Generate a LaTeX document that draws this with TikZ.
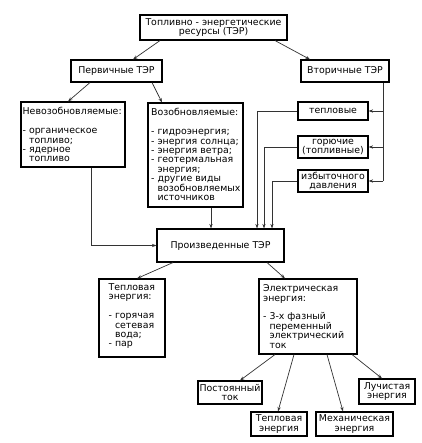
\documentclass[tikz,border=0pt]{standalone}
\usepackage{fontspec}
\setmainfont{DejaVu Sans}
\usetikzlibrary{arrows.meta}
\begin{document}
\begin{tikzpicture}[x=1pt,y=-1pt,
  box/.style={draw=black,line width=1.1pt,inner sep=0pt,fill=white},
  txt/.style={inner sep=0pt,font=\fontsize{9.4}{9.4}\selectfont,align=left},
  ctxt/.style={inner sep=0pt,font=\fontsize{9.4}{9.4}\selectfont,align=center},
  arr/.style={draw=black!80,line width=0.7pt,-{Stealth[length=4.5pt,width=3.2pt]}}]
\useasboundingbox[fill=white] (0,0) rectangle (421,443);
% boxes
\node[box,minimum width=147pt,minimum height=25pt,ctxt] (top) at (213.5,27.5) {Топливно - энергетические\\ресурсы (ТЭР)};
\node[box,minimum width=91pt,minimum height=22pt,ctxt] (perv) at (116.5,71) {Первичные ТЭР};
\node[box,minimum width=88pt,minimum height=22pt,ctxt] (vtor) at (345,71) {Вторичные ТЭР};
\node[box,minimum width=104pt,minimum height=65pt] (nv) at (73,134.5) {};
\node[txt,anchor=north west] (nvt) at ([shift={(2,6)}]nv.north west) {Невозобновляемые:\\[9.4pt]- органическое\\\hphantom{- }топливо;\\- ядерное\\\hphantom{- }топливо};
\node[box,minimum width=95pt,minimum height=104pt] (vz) at (195.5,155) {};
\node[txt,anchor=north west] (vzt) at ([shift={(3.5,6)}]vz.north west) {Возобновляемые:\\[9.4pt]- гидроэнергия;\\- энергия солнца;\\- энергия ветра;\\- геотермальная\\\hphantom{- }энергия;\\- другие виды\\\hphantom{- }возобновляемых\\\hphantom{- }источников};
\node[box,minimum width=70pt,minimum height=18pt,ctxt] (tep) at (333,111) {тепловые};
\node[box,minimum width=70pt,minimum height=22pt,ctxt] (gor) at (333,147) {горючие\\(топливные)};
\node[box,minimum width=70pt,minimum height=22pt,ctxt] (izb) at (333,181) {избыточного\\давления};
\node[box,minimum width=127pt,minimum height=33pt,ctxt] (prod) at (220.5,245.5) {Произведенные ТЭР};
\node[box,minimum width=66pt,minimum height=78pt] (te) at (132,318) {};
\node[txt,anchor=north west] (tet) at ([shift={(10,5)}]te.north west) {Тепловая\\энергия:\\[9.4pt]- горячая\\\hphantom{- }сетевая\\\hphantom{- }вода;\\- пар};
\node[box,minimum width=98pt,minimum height=75pt] (el) at (308,316.5) {};
\node[txt,anchor=north west] (elt) at ([shift={(4.5,6)}]el.north west) {Электрическая\\энергия:\\[9.4pt]- 3-х фазный\\\hphantom{- }переменный\\\hphantom{- }электрический\\\hphantom{- }ток};
\node[box,minimum width=64pt,minimum height=23pt,ctxt] (post) at (230,392.5) {Постоянный\\ток};
\node[box,minimum width=56pt,minimum height=24pt,ctxt] (te2) at (279,424) {Тепловая\\энергия};
\node[box,minimum width=77pt,minimum height=24pt,ctxt] (mech) at (354.5,424) {Механическая\\энергия};
\node[box,minimum width=56pt,minimum height=25pt,ctxt] (luch) at (387,391.5) {Лучистая\\энергия};
% connectors
\draw[arr] ([xshift=-53.5]top.south) -- ([xshift=16.5]perv.north);
\draw[arr] ([xshift=61.5]top.south) -- ([xshift=-35]vtor.north);
\draw[arr] ([xshift=-26.5]perv.south) -- ([xshift=-5]nv.north);
\draw[arr] ([xshift=35.5]perv.south) -- ([xshift=-33.5]vz.north);
\draw[arr] ([xshift=18]nv.south) |- (prod.west);
\draw[arr] ([xshift=15.5]vz.south) -- ([xshift=15.5]vz.south |- prod.north);
\coordinate (rj) at ([xshift=38]vtor.south |- izb.east);
\draw[draw=black!80,line width=0.7pt] ([xshift=38]vtor.south) -- (rj);
\draw[arr] (rj |- tep.east) -- (tep.east);
\draw[arr] (rj |- gor.east) -- (gor.east);
\draw[arr] (rj) -- (izb.east);
\draw[arr] (tep.west) -| ([xshift=36.5]prod.north);
\draw[arr] (gor.west) -| ([xshift=43.5]prod.north);
\draw[arr] (izb.west) -| ([xshift=51.5]prod.north);
\draw[arr] ([xshift=-47.5]prod.south) -- ([xshift=5]te.north);
\draw[arr] ([xshift=46.5]prod.south) -- ([xshift=-23]el.north);
\draw[arr] ([xshift=-33]el.south) -- ([xshift=10]post.north);
\draw[arr] ([xshift=-14]el.south) -- ([xshift=-1]te2.north);
\draw[arr] ([xshift=19]el.south) -- ([xshift=-11.5]mech.north);
\draw[arr] ([xshift=44]el.south) -- ([xshift=-5]luch.north);
\end{tikzpicture}
\end{document}
